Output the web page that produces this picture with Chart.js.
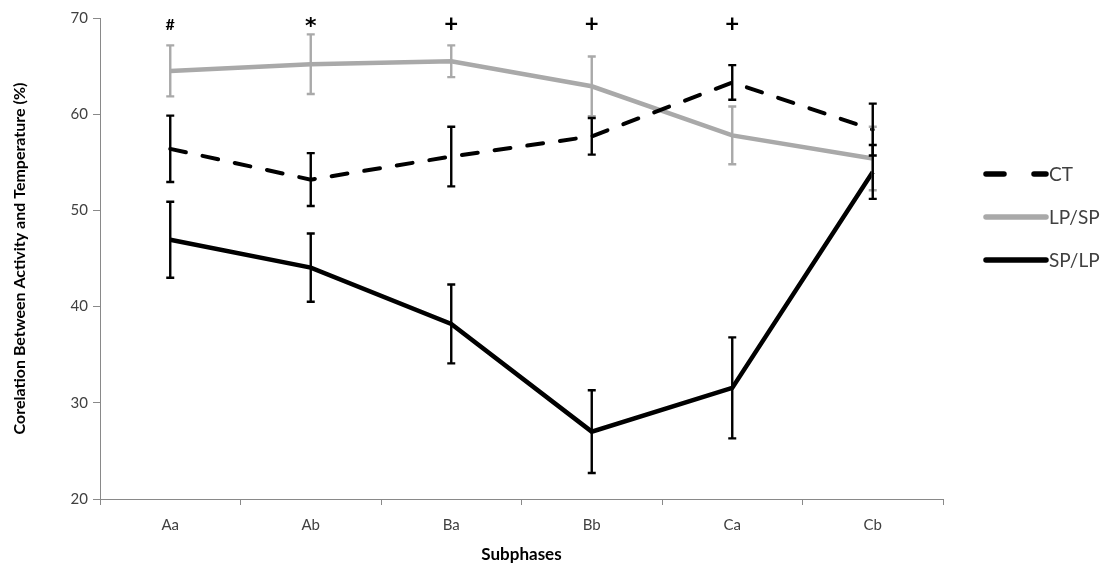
<!DOCTYPE html>
<html>
<head>
<meta charset="utf-8">
<script src="https://cdn.jsdelivr.net/npm/chart.js@4"></script>
<style>
  html, body { margin: 0; padding: 0; background: #fff; }
  #wrap { width: 1115px; height: 570px; }
</style>
</head>
<body>
<div id="wrap"><canvas id="activityChart"></canvas></div>
<script>
const subphases = ['Aa', 'Ab', 'Ba', 'Bb', 'Ca', 'Cb'];
const ctMean = [56.4, 53.2, 55.6, 57.7, 63.3, 58.4];
const ctErr = [3.45, 2.75, 3.1, 1.9, 1.8, 2.7];
const lpspMean = [64.5, 65.2, 65.5, 62.9, 57.8, 55.4];
const lpspErr = [2.65, 3.1, 1.65, 3.1, 3.0, 3.3];
const splpMean = [46.95, 44.05, 38.2, 27.0, 31.55, 54.0];
const splpErr = [3.95, 3.55, 4.1, 4.3, 5.25, 2.8];
const sigMarks = ['#', '*', '+', '+', '+', ''];

const axisGray = '#898989';
const lineGray = '#A9A9A9';
const textColor = '#404040';

// vertical error bars with small caps, drawn on top of the lines
const errorBars = {
  id: 'errorBars',
  afterDatasetsDraw(chart) {
    const { ctx, scales: { x, y } } = chart;
    const order = [1, 0, 2];
    order.forEach(i => {
      const ds = chart.data.datasets[i];
      ctx.save();
      ctx.strokeStyle = ds.borderColor;
      ctx.lineWidth = 2.4;
      ctx.setLineDash([]);
      ds.errors.forEach((e, j) => {
        const px = x.getPixelForValue(j);
        const top = y.getPixelForValue(ds.data[j] + e);
        const bot = y.getPixelForValue(ds.data[j] - e);
        ctx.beginPath();
        ctx.moveTo(px, top);
        ctx.lineTo(px, bot);
        ctx.moveTo(px - 4, top);
        ctx.lineTo(px + 4, top);
        ctx.moveTo(px - 4, bot);
        ctx.lineTo(px + 4, bot);
        ctx.stroke();
      });
      ctx.restore();
    });
  }
};

// significance symbols along the top of the plot
const sigFonts = { '#': 'bold 16px Lato', '*': 'bold 22px "DejaVu Sans"', '+': 'bold 24px Lato' };
const sigLabels = {
  id: 'sigLabels',
  afterDraw(chart) {
    const { ctx, scales: { x, y } } = chart;
    ctx.save();
    ctx.fillStyle = '#000';
    ctx.textAlign = 'center';
    ctx.textBaseline = 'middle';
    sigMarks.forEach((m, j) => {
      if (!m) return;
      ctx.font = sigFonts[m];
      const dy = m === '*' ? 3 : 0;
      ctx.fillText(m, x.getPixelForValue(j), y.getPixelForValue(69.3) + dy);
    });
    ctx.restore();
  }
};

// legend on the right with line samples
const sideLegend = {
  id: 'sideLegend',
  afterDraw(chart) {
    const { ctx, chartArea } = chart;
    const x0 = chartArea.right + 43;
    const x1 = x0 + 60;
    let yy = 174;
    chart.data.datasets.forEach(ds => {
      ctx.save();
      ctx.strokeStyle = ds.borderColor;
      ctx.lineWidth = 5.5;
      ctx.lineCap = 'round';
      ctx.setLineDash(ds.borderDash && ds.borderDash.length ? [18, 30] : []);
      ctx.beginPath();
      ctx.moveTo(x0, yy);
      ctx.lineTo(x1, yy);
      ctx.stroke();
      ctx.restore();
      ctx.save();
      ctx.fillStyle = textColor;
      ctx.font = '19px Lato';
      ctx.textBaseline = 'middle';
      ctx.fillText(ds.label, x1 + 3, yy + 1);
      ctx.restore();
      yy += 43;
    });
  }
};

new Chart(document.getElementById('activityChart'), {
  type: 'line',
  data: {
    labels: subphases,
    datasets: [
      {
        label: 'CT',
        data: ctMean,
        errors: ctErr,
        borderColor: '#000',
        borderWidth: 4,
        borderDash: [16, 17],
        borderCapStyle: 'round',
        pointRadius: 0,
        tension: 0
      },
      {
        label: 'LP/SP',
        data: lpspMean,
        errors: lpspErr,
        borderColor: lineGray,
        borderWidth: 4.5,
        pointRadius: 0,
        tension: 0
      },
      {
        label: 'SP/LP',
        data: splpMean,
        errors: splpErr,
        borderColor: '#000',
        borderWidth: 4.5,
        pointRadius: 0,
        tension: 0
      }
    ]
  },
  options: {
    responsive: true,
    maintainAspectRatio: false,
    animation: false,
    layout: { padding: { top: 18, right: 172, bottom: 0, left: 0 } },
    plugins: {
      legend: { display: false },
      tooltip: { enabled: false }
    },
    scales: {
      x: {
        offset: true,
        afterFit(s) { s.height = 71; },
        border: { display: true, color: axisGray, width: 1 },
        grid: { offset: true, drawOnChartArea: false, drawTicks: true, tickLength: 6, color: axisGray },
        ticks: { color: textColor, font: { family: 'Lato', size: 15 }, padding: 11 },
        title: {
          display: true,
          text: 'Subphases',
          color: '#000',
          font: { family: 'Lato', size: 17, weight: 'bold' },
          padding: { top: 0, bottom: 5 }
        }
      },
      y: {
        min: 20,
        max: 70,
        afterFit(s) { s.width = 100; },
        border: { display: true, color: axisGray, width: 1 },
        grid: { drawOnChartArea: false, drawTicks: true, tickLength: 7, color: axisGray },
        ticks: { stepSize: 10, color: textColor, font: { family: 'Lato', size: 15 }, padding: 5 },
        title: {
          display: true,
          text: 'Corelation Between Activity and Temperature (%)',
          color: '#000',
          font: { family: 'Lato', size: 16, weight: 'bold' },
          padding: { top: 10, bottom: 0 }
        }
      }
    }
  },
  plugins: [errorBars, sigLabels, sideLegend]
});
</script>
</body>
</html>
